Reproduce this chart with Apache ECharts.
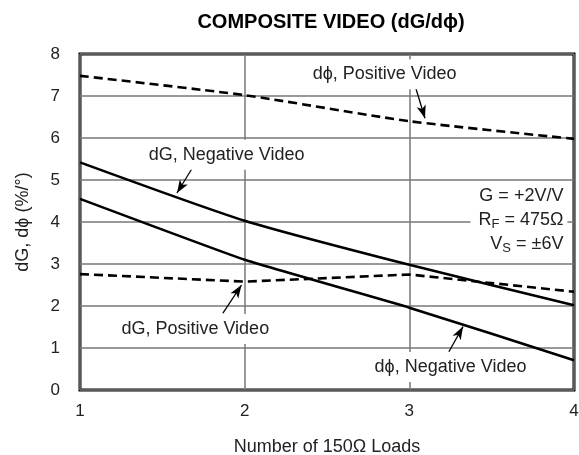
<!DOCTYPE html>
<html>
<head>
<meta charset="utf-8">
<script src="https://cdn.jsdelivr.net/npm/echarts@6/dist/echarts.min.js"></script>
<style>
  html, body { margin: 0; padding: 0; background: #fff; }
  #chart { width: 579px; height: 455px; }
</style>
</head>
<body>
<div id="chart"></div>
<script>
// number of 150 ohm loads
const loads = [1, 2, 3, 4];
// values (%/deg)
const dPhiPositive = [7.48, 7.02, 6.4, 5.98];
const dGNegative = [5.42, 4.03, 2.98, 2.02];
const dPhiNegative = [4.55, 3.1, 1.96, 0.71];
const dGPositive = [2.76, 2.58, 2.75, 2.34];
const xTicks = [1, 2, 3, 4];
const yTicks = [0, 1, 2, 3, 4, 5, 6, 7, 8];

const FONT = '"Liberation Sans", Arial, Helvetica, sans-serif';

function pairs(ys) {
  return loads.map((x, i) => [x, ys[i]]);
}

// label + arrow annotation (positions in data coords)
function note(text, at, from, to) {
  return {
    markPoint: {
      symbol: 'circle',
      symbolSize: 0,
      silent: true,
      data: [{
        coord: at,
        label: {
          show: true,
          position: 'inside',
          formatter: text,
          color: '#222',
          fontSize: 18,
          fontFamily: FONT,
          backgroundColor: '#fff',
          padding: [6, 3]
        }
      }]
    },
    markLine: {
      silent: true,
      symbol: ['none', 'arrow'],
      symbolSize: [7, 13],
      label: { show: false },
      lineStyle: { color: '#000', width: 1.3, type: 'solid' },
      data: [[{ coord: from }, { coord: to }]]
    }
  };
}

const solid = { color: '#000', width: 2.6, type: 'solid' };
const dashed = { color: '#000', width: 2.6, type: [9, 5] };

const chart = echarts.init(document.getElementById('chart'));
chart.setOption({
  animation: false,
  title: {
    text: 'COMPOSITE VIDEO (dG/d\u03d5)',
    left: 326,
    top: 7,
    textAlign: 'center',
    textStyle: { fontFamily: FONT, fontSize: 20, fontWeight: 'bold', color: '#000' }
  },
  grid: {
    left: 80, right: 5, top: 54, bottom: 65,
    outerBoundsMode: 'none',
    show: true,
    borderColor: '#000',
    borderWidth: 3
  },
  xAxis: {
    type: 'value',
    min: xTicks[0],
    max: xTicks[xTicks.length - 1],
    interval: 1,
    name: 'Number of 150\u03a9 Loads',
    nameLocation: 'middle',
    nameGap: 48,
    nameTextStyle: { fontFamily: FONT, fontSize: 18, color: '#222' },
    axisLine: { show: false },
    axisTick: { show: false },
    axisLabel: { fontFamily: FONT, fontSize: 17, color: '#222', margin: 13 },
    splitLine: { lineStyle: { color: '#777', width: 1.5 } }
  },
  yAxis: {
    type: 'value',
    min: yTicks[0],
    max: yTicks[yTicks.length - 1],
    interval: 1,
    name: 'dG, d\u03d5 (%/\u00b0)',
    nameLocation: 'middle',
    nameGap: 48,
    nameTextStyle: { fontFamily: FONT, fontSize: 18, color: '#222' },
    axisLine: { show: false },
    axisTick: { show: false },
    axisLabel: { fontFamily: FONT, fontSize: 17, color: '#222', margin: 20 },
    splitLine: { lineStyle: { color: '#777', width: 1.5 } }
  },
  series: [
    Object.assign({
      name: 'd\u03d5, Positive Video',
      type: 'line',
      data: pairs(dPhiPositive),
      smooth: 0.2,
      symbol: 'none',
      lineStyle: dashed,
      z: 5
    }, note('d\u03d5, Positive Video', [2.85, 7.52], [3.04, 7.18], [3.095, 6.47])),
    Object.assign({
      name: 'dG, Negative Video',
      type: 'line',
      data: pairs(dGNegative),
      smooth: 0.2,
      symbol: 'none',
      lineStyle: solid,
      z: 5
    }, note('dG, Negative Video', [1.89, 5.6], [1.686, 5.31], [1.589, 4.69])),
    Object.assign({
      name: 'dG, Positive Video',
      type: 'line',
      data: pairs(dGPositive),
      symbol: 'none',
      lineStyle: dashed,
      z: 5
    }, note('dG, Positive Video', [1.70, 1.45], [1.868, 1.83], [1.981, 2.5])),
    Object.assign({
      name: 'd\u03d5, Negative Video',
      type: 'line',
      data: pairs(dPhiNegative),
      smooth: 0.1,
      symbol: 'none',
      lineStyle: solid,
      z: 5
    }, note('d\u03d5, Negative Video', [3.25, 0.55], [3.24, 0.91], [3.326, 1.51])),
    {
      // test conditions block
      type: 'line',
      data: [],
      markPoint: {
        symbol: 'circle',
        symbolSize: 0,
        silent: true,
        data: [{
          coord: [3.96, 4.05],
          label: {
            show: true,
            position: 'inside',
            align: 'right',
            color: '#222',
            fontFamily: FONT,
            backgroundColor: '#fff',
            padding: [2, 4, 2, 8],
            formatter: 'G = +2V/V\nR{s|F} = 475\u03a9\nV{s|S} = \u00b16V',
            lineHeight: 24,
            fontSize: 18,
            rich: {
              s: { fontSize: 13, fontFamily: FONT, color: '#222', padding: [10, 0, 0, 0], lineHeight: 24 }
            }
          }
        }]
      }
    }
  ]
});
</script>
</body>
</html>
